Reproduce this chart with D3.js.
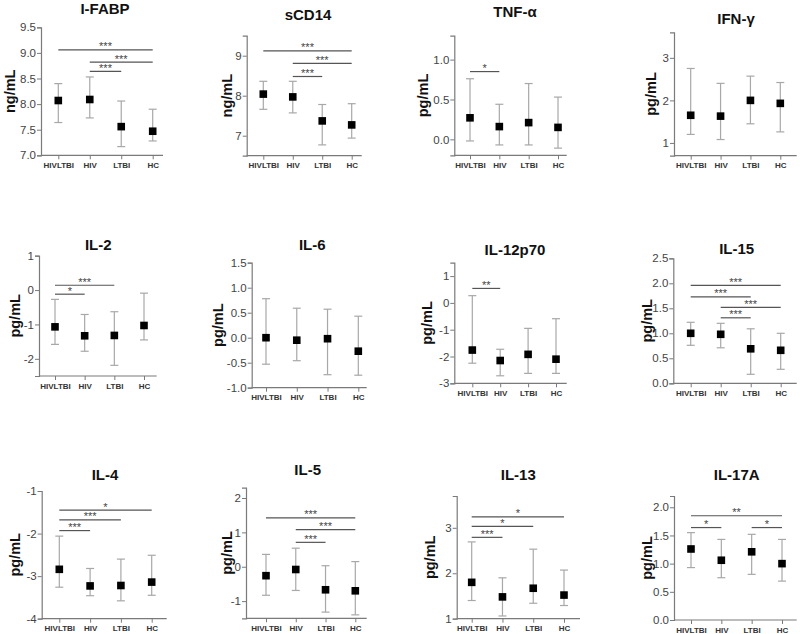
<!DOCTYPE html>
<html><head><meta charset="utf-8">
<script src="https://cdn.jsdelivr.net/npm/d3@7"></script>
<style>
html,body{margin:0;padding:0;background:#fff;}
svg{display:block;font-family:Arial,"Liberation Sans",sans-serif;}
</style></head>
<body>
<svg id="chart" width="800" height="634"></svg>
<script>
// ---------- DATA ----------
const categories = ["HIVLTBI", "HIV", "LTBI", "HC"];
const titles = ["I-FABP", "sCD14", "TNF-α", "IFN-γ", "IL-2", "IL-6", "IL-12p70", "IL-15", "IL-4", "IL-5", "IL-13", "IL-17A"];
const units = ["ng/mL", "ng/mL", "pg/mL", "pg/mL", "pg/mL", "pg/mL", "pg/mL", "pg/mL", "pg/mL", "pg/mL", "pg/mL", "pg/mL"];
const means = [
  [8.07, 8.09, 7.56, 7.47],
  [8.04, 7.97, 7.37, 7.27],
  [0.27, 0.16, 0.21, 0.15],
  [1.65, 1.63, 2.00, 1.93],
  [-1.07, -1.33, -1.32, -1.03],
  [0.00, -0.05, -0.02, -0.27],
  [-1.76, -2.15, -1.92, -2.10],
  [1.00, 0.98, 0.69, 0.66],
  [-2.84, -3.23, -3.22, -3.14],
  [-0.26, -0.08, -0.67, -0.70],
  [1.80, 1.48, 1.67, 1.52],
  [1.26, 1.06, 1.21, 1.00]
];
const lowers = [
  [7.64, 7.73, 7.17, 7.28],
  [7.66, 7.57, 6.77, 6.94],
  [-0.02, -0.07, -0.07, -0.11],
  [1.20, 1.08, 1.45, 1.26],
  [-1.58, -1.78, -2.19, -1.45],
  [-0.53, -0.46, -0.74, -0.75],
  [-2.25, -2.72, -2.63, -2.63],
  [0.76, 0.71, 0.18, 0.28],
  [-3.26, -3.46, -3.58, -3.45],
  [-0.83, -0.69, -1.32, -1.40],
  [1.40, 1.06, 1.34, 1.29],
  [0.93, 0.75, 0.81, 0.69]
];
const uppers = [
  [8.40, 8.53, 8.06, 7.90],
  [8.36, 8.36, 7.78, 7.80],
  [0.76, 0.44, 0.70, 0.53],
  [2.75, 2.40, 2.57, 2.42],
  [-0.27, -0.71, -0.63, -0.09],
  [0.78, 0.59, 0.57, 0.43],
  [0.27, -1.73, -0.95, -0.59],
  [1.22, 1.20, 1.09, 1.00],
  [-2.06, -2.82, -2.60, -2.51],
  [0.36, 0.54, 0.03, 0.15],
  [2.69, 1.90, 2.53, 2.07],
  [1.55, 1.43, 1.52, 1.43]
];
const yDomains = [
  [7, 9.5], [6.5, 9.5], [-0.2, 1.3], [0.7, 3.6],
  [-2.5, 1], [-1, 1.5], [-3, 1.5], [0, 2.5],
  [-4, -1], [-1.5, 2.3], [1, 3.7], [0, 2.2]
];
const yTicks = [
  [7.0, 7.5, 8.0, 8.5, 9.0, 9.5], [7, 8, 9], [0.0, 0.5, 1.0], [1, 2, 3],
  [-2, -1, 0, 1], [-1.0, -0.5, 0.0, 0.5, 1.0, 1.5], [-3, -2, -1, 0, 1], [0.0, 0.5, 1.0, 1.5, 2.0, 2.5],
  [-4, -3, -2, -1], [-1, 0, 1, 2], [1, 2, 3], [0.0, 0.5, 1.0, 1.5, 2.0]
];
const tickDecimals = [1, 0, 1, 0, 0, 1, 0, 1, 0, 0, 0, 1];
// significance bars: [fromIndex, toIndex, level (data units), label]
const sigBars = [
  [[0, 3, 9.06, "***"], [1, 3, 8.82, "***"], [1, 2, 8.64, "***"]],
  [[0, 3, 9.12, "***"], [1, 3, 8.81, "***"], [1, 2, 8.48, "***"]],
  [[0, 1, 0.85, "*"]],
  [],
  [[0, 2, 0.14, "***"], [0, 1, -0.12, "*"]],
  [],
  [[0, 1, 0.54, "**"]],
  [[0, 3, 1.96, "***"], [0, 2, 1.73, "***"], [1, 3, 1.52, "***"], [1, 2, 1.31, "***"]],
  [[0, 3, -1.45, "*"], [0, 2, -1.68, "***"], [0, 1, -1.93, "***"]],
  [[0, 3, 1.42, "***"], [1, 3, 1.08, "***"], [1, 2, 0.71, "***"]],
  [[0, 3, 3.24, "*"], [0, 2, 3.03, "*"], [0, 1, 2.79, "***"]],
  [[0, 3, 1.85, "**"], [0, 1, 1.64, "*"], [2, 3, 1.64, "*"]]
];

// ---------- LAYOUT (pixels) ----------
// [axisX, firstCatX, lastCatX, xAxisEnd, yTop, yBottom, unitLabelX, titleX, titleY]
const layout = [
  [41, 58.3, 152.7, 163, 27.3, 155.3, 10, 105, 9],
  [246.7, 263.3, 351.7, 361.7, 35.7, 155.7, 226.7, 308, 15],
  [454.3, 470, 558, 566.7, 35.7, 155.3, 423, 515, 12],
  [674, 690.7, 780.3, 796.7, 32.3, 155.7, 650.7, 736, 18.5],
  [39, 55, 144, 156.7, 255.7, 376, 15, 98.3, 245],
  [251.7, 266, 358.3, 366.7, 262.7, 387.7, 218, 312.3, 245],
  [454.3, 472.3, 556, 566.7, 262.7, 383.3, 427, 515, 250],
  [673.3, 690.7, 780.7, 796.7, 258.3, 383.3, 647, 736.7, 248.3],
  [41.7, 59.3, 151.7, 166.7, 491, 618.7, 15, 105, 475],
  [246, 266, 355.3, 366.7, 487.7, 618.3, 227, 307.7, 470],
  [456.7, 471.7, 564, 580, 496, 618.7, 430, 518.3, 475],
  [674, 691, 782, 796.7, 496, 620, 647, 736.7, 475]
];

const svg = d3.select("#chart");
const axisColor = "#7a7a7a";

titles.forEach((title, i) => {
  const [axisX, x0, x3, xEnd, yTop, yBot, labX, titleX, titleY] = layout[i];
  const g = svg.append("g");
  const x = d3.scalePoint().domain(categories).range([x0, x3]);
  const y = d3.scaleLinear().domain(yDomains[i]).range([yBot, yTop]);

  // y axis
  const yAxis = g.append("g").attr("transform", `translate(${axisX},0)`)
    .call(d3.axisLeft(y).tickValues(yTicks[i]).tickSizeOuter(0).tickSize(4)
      .tickFormat(d => d.toFixed(tickDecimals[i])));
  yAxis.select(".domain").attr("stroke", axisColor).attr("stroke-width", 1.2);
  yAxis.selectAll(".tick line").attr("stroke", axisColor);
  yAxis.selectAll(".tick text").attr("fill", "#444").attr("font-size", 11.5)
    .attr("font-family", "Arial, 'Liberation Sans', sans-serif").attr("x", -5);

  // x axis
  g.append("line").attr("x1", axisX).attr("x2", xEnd).attr("y1", yBot).attr("y2", yBot)
    .attr("stroke", axisColor).attr("stroke-width", 1.2);
  const xAxis = g.append("g").attr("transform", `translate(0,${yBot})`)
    .call(d3.axisBottom(x).tickSize(4).tickSizeOuter(0));
  xAxis.select(".domain").remove();
  xAxis.selectAll(".tick line").attr("stroke", axisColor);
  xAxis.selectAll(".tick text").attr("fill", "#333").attr("font-size", 8)
    .attr("font-weight", "bold").attr("font-family", "Arial, 'Liberation Sans', sans-serif")
    .attr("y", 7);

  // error bars
  const cap = 4;
  categories.forEach((c, j) => {
    const cx = x(c);
    g.append("line").attr("x1", cx).attr("x2", cx)
      .attr("y1", y(lowers[i][j])).attr("y2", y(uppers[i][j]))
      .attr("stroke", "#a8a8a8").attr("stroke-width", 1.2);
    [lowers[i][j], uppers[i][j]].forEach(v => {
      g.append("line").attr("x1", cx - cap).attr("x2", cx + cap)
        .attr("y1", y(v)).attr("y2", y(v))
        .attr("stroke", "#a8a8a8").attr("stroke-width", 1.2);
    });
  });
  // mean markers
  g.selectAll("rect.m").data(means[i]).enter().append("rect")
    .attr("x", (d, j) => x(categories[j]) - 3.8)
    .attr("y", d => y(d) - 3.8)
    .attr("width", 7.6).attr("height", 7.6).attr("fill", "#000");

  // significance bars
  sigBars[i].forEach(([a, b, lvl, lab]) => {
    const yy = y(lvl);
    const xa = x(categories[a]), xb = x(categories[b]);
    g.append("line").attr("x1", xa).attr("x2", xb).attr("y1", yy).attr("y2", yy)
      .attr("stroke", "#555").attr("stroke-width", 1.2);
    g.append("text").attr("x", (xa + xb) / 2).attr("y", yy + 0.5)
      .attr("text-anchor", "middle").attr("font-size", 11).attr("fill", "#444")
      .text(lab);
  });

  // title
  g.append("text").attr("x", titleX).attr("y", titleY).attr("dy", "0.35em")
    .attr("text-anchor", "middle").attr("font-size", 15).attr("font-weight", "bold")
    .attr("fill", "#111").text(title);
  // unit label
  g.append("text").attr("transform", `translate(${labX},${(yTop + yBot) / 2}) rotate(-90)`)
    .attr("dy", "0.35em").attr("text-anchor", "middle").attr("font-size", 14.5)
    .attr("font-weight", "bold").attr("fill", "#111").text(units[i]);
});
</script>
</body></html>
